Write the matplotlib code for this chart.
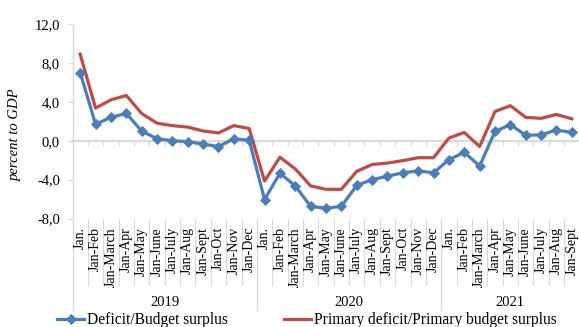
import numpy as np
import matplotlib
matplotlib.use("Agg")
import matplotlib.pyplot as plt
import matplotlib.transforms as mtransforms
from matplotlib.lines import Line2D

plt.rcParams['font.family'] = ['Liberation Serif', 'DejaVu Serif']

# Monthly cumulative periods, grouped by year
months_2019 = ["Jan.", "Jan-Feb", "Jan-March", "Jan-Apr", "Jan-May", "Jan-June",
               "Jan-July", "Jan-Aug", "Jan-Sept", "Jan-Oct", "Jan-Nov", "Jan-Dec"]
months_2020 = ["Jan.", "Jan-Feb", "Jan-March", "Jan-Apr", "Jan-May", "Jan-June",
               "Jan-July", "Jan-Aug", "Jan-Sept", "Jan-Oct", "Jan-Nov", "Jan-Dec"]
months_2021 = ["Jan.", "Jan-Feb", "Jan-March", "Jan-Apr", "Jan-May", "Jan-June",
               "Jan-July", "Jan-Aug", "Jan-Sept"]
years = ["2019", "2020", "2021"]

# Percent to GDP
budget_balance = [7.0, 1.7, 2.4, 2.8, 1.0, 0.2, 0.0, -0.1, -0.35, -0.6, 0.2, 0.05,
                  -6.05, -3.35, -4.65, -6.75, -6.95, -6.75, -4.6, -4.0, -3.65, -3.3, -3.1, -3.3,
                  -1.95, -1.2, -2.6, 0.95, 1.65, 0.55, 0.6, 1.1, 0.85]
primary_balance = [8.9, 3.35, 4.2, 4.65, 2.8, 1.8, 1.55, 1.4, 1.0, 0.8, 1.55, 1.25,
                   -4.15, -1.7, -2.9, -4.65, -5.0, -5.0, -3.15, -2.45, -2.3, -2.05, -1.75, -1.75,
                   0.27, 0.85, -0.6, 3.0, 3.6, 2.4, 2.3, 2.7, 2.25]

labels = months_2019 + months_2020 + months_2021
group_sizes = [len(months_2019), len(months_2020), len(months_2021)]
x = np.arange(len(labels))

BLUE = "#4A7EBB"
RED = "#BE4B48"
GRAY = "#D9D9D9"

W, H = 579, 327
fig = plt.figure(figsize=(W / 100, H / 100), dpi=100)
ax = fig.add_axes([72.5 / W, 1 - 218.5 / H, 507.0 / W, 194.5 / H])

ax.plot(x, primary_balance, color=RED, lw=2.3, solid_joinstyle="round", zorder=3)
ax.plot(x, budget_balance, color=BLUE, lw=2.3, marker="D", markersize=4.6,
        markeredgewidth=0.6, solid_joinstyle="round", zorder=4)

ax.set_xlim(-0.5, len(labels) - 0.5)
ax.set_ylim(-8, 12)
ax.set_yticks([-8, -4, 0, 4, 8, 12])
ax.set_yticklabels([f"{v:.1f}".replace(".", ",") for v in [-8, -4, 0, 4, 8, 12]],
                   fontsize=10.5)
ax.tick_params(axis="y", length=3.5, width=0.8, color=GRAY, pad=5.5)

# Category axis crossing at zero, ticks between categories
for s in ["top", "right"]:
    ax.spines[s].set_visible(False)
ax.spines["bottom"].set_position(("data", 0))
ax.spines["bottom"].set_color(GRAY)
ax.spines["bottom"].set_linewidth(1.5)
ax.spines["left"].set_color(GRAY)
ax.spines["left"].set_linewidth(1.0)
ax.set_xticks(np.arange(-0.5, len(labels), 1.0))
ax.set_xticklabels([])
ax.tick_params(axis="x", direction="out", length=3.5, width=0.8, color=GRAY)

trans = mtransforms.blended_transform_factory(ax.transData, ax.transAxes)
ax_h = 194.5
lab_top = -(227 - 218.5) / ax_h
sep_bot = -(285 - 218.5) / ax_h
grp_bot = -(310 - 218.5) / ax_h
year_y = -(302 - 218.5) / ax_h

for i, lab in enumerate(labels):
    ax.text(i, lab_top, lab, rotation=90, ha="center", va="top",
            fontsize=10, transform=trans)

bounds = np.cumsum([0] + group_sizes)
for b in range(1, len(labels)):
    if b in bounds:
        continue
    ax.plot([b - 0.5, b - 0.5], [0, sep_bot], color=GRAY, lw=0.8,
            transform=trans, clip_on=False)
for b in bounds[:-1]:
    ax.plot([b - 0.5, b - 0.5], [0, grp_bot], color=GRAY, lw=1.0,
            transform=trans, clip_on=False)

for k, yr in enumerate(years):
    ax.text((bounds[k] + bounds[k + 1] - 1) / 2, year_y, yr, ha="center", va="center",
            fontsize=10.5, transform=trans)

fig.text(15 / W, 1 - 135 / H, "percent to GDP", rotation=90, ha="center", va="center",
         fontsize=10.5, style="italic")

# Legend entries placed along the bottom edge
h_blue = Line2D([], [], color=BLUE, lw=2.3, marker="D", markersize=4.6, markeredgewidth=0.6)
h_red = Line2D([], [], color=RED, lw=2.3)
leg_kw = dict(frameon=False, fontsize=11.2, handlelength=1.75, handletextpad=0.15,
              borderpad=0, borderaxespad=0, loc="center left")
fig.legend([h_blue], ["Deficit/Budget surplus"], bbox_to_anchor=(57 / W, 1 - 320 / H), **leg_kw)
fig.legend([h_red], ["Primary deficit/Primary budget surplus"],
           bbox_to_anchor=(284 / W, 1 - 320 / H), **leg_kw)

fig.savefig("out.png", dpi=100)
